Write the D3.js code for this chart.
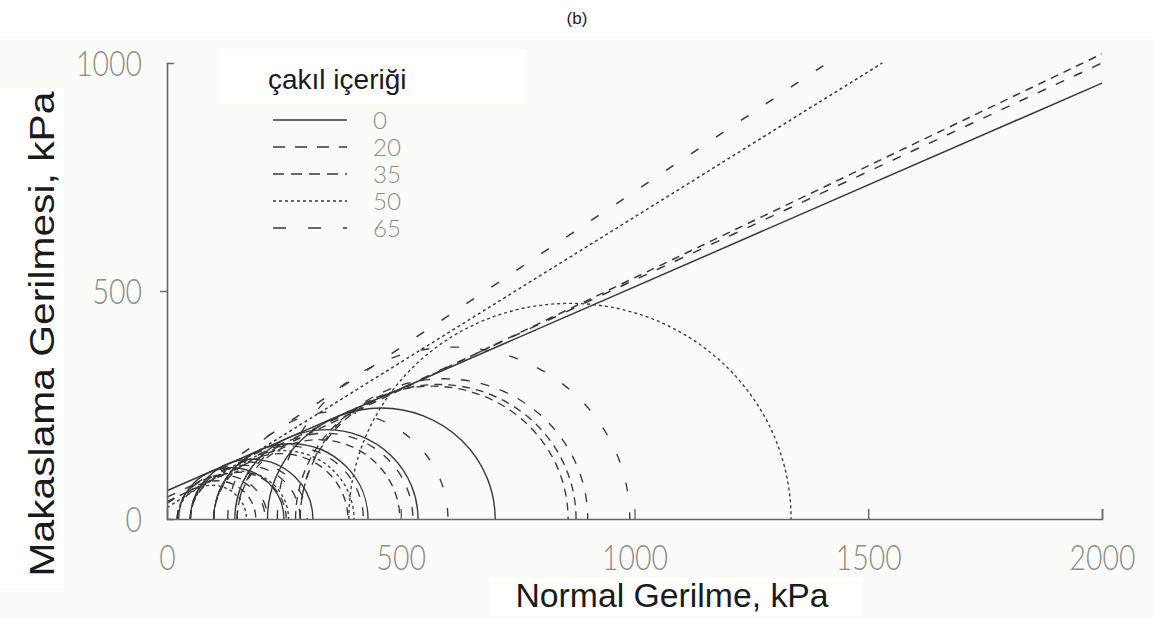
<!DOCTYPE html>
<html>
<head>
<meta charset="utf-8">
<script src="https://cdn.jsdelivr.net/npm/d3@7"></script>
<style>
  html, body { margin: 0; padding: 0; background: #fbfbf8; }
  svg { display: block; }
</style>
</head>
<body>
<svg id="chart" width="1153" height="618"></svg>
<script>
// Gravel content groups (legend labels)
const gravelContent = ["0", "20", "35", "50", "65"];

// Failure envelopes: shear stress at sigma = 0 and the end point of each line (kPa)
const envelopeStartTau = [62, 48, 38, 25, 34];
const envelopeEndSigma = [2000, 2000, 2000, 1530, 1412];
const envelopeEndTau   = [956, 1000, 1020, 1000, 1000];

// Mohr circles per group: minor (sigma3) and major (sigma1) principal stresses, kPa
const sigma3 = [
  [25, 50, 100, 145, 215],
  [22, 50, 100, 150, 285],
  [22, 50, 100, 150, 275, 285],
  [22, 50, 100, 389],
  [22, 50, 130, 236]
];
const sigma1 = [
  [250, 312, 430, 537, 702],
  [215, 285, 420, 526, 900],
  [190, 255, 387, 498, 858, 875],
  [170, 260, 400, 1335],
  [210, 300, 601, 990]
];

// Axis ticks
const xTicks = [0, 500, 1000, 1500, 2000];
const yTicks = [0, 500, 1000];

// Dash style per group
const dashPlot   = [null, "9,11", "8,6", "3,3", "9,21"];
const dashLegend = [null, "12,10", "11,7", "3,3", "13,22"];

const svg = d3.select("#chart");
const W = 1153;

const x = d3.scaleLinear().domain([0, 2000]).range([167, 1102]);
const y = d3.scaleLinear().domain([0, 1000]).range([519, 63]);

const ink = "#383838";
const tickFont = "'Lato', 'DejaVu Sans', sans-serif";
const titleFont = "'Liberation Sans', Arial, sans-serif";

// white label panels
svg.append("rect").attr("x", 0).attr("y", 0).attr("width", W).attr("height", 36).attr("fill", "#fff");
svg.append("rect").attr("x", 0).attr("y", 88).attr("width", 64).attr("height", 500).attr("fill", "#fff");
svg.append("rect").attr("x", 490).attr("y", 578).attr("width", 372).attr("height", 38).attr("fill", "#fff");
svg.append("rect").attr("x", 220).attr("y", 49).attr("width", 307).attr("height", 55).attr("fill", "#fff");

// panel label
svg.append("text").attr("x", 577).attr("y", 24)
  .attr("text-anchor", "middle")
  .style("font-family", titleFont)
  .style("font-size", "17px").attr("fill", "#222").text("(b)");

const plot = svg.append("g");

// Mohr circles (upper halves)
gravelContent.forEach((g, i) => {
  sigma3[i].forEach((s3, j) => {
    const s1 = sigma1[i][j];
    const rx = (x(s1) - x(s3)) / 2;
    const ry = (y(0) - y(s1 - s3)) / 2;
    plot.append("path")
      .attr("d", `M${x(s3)},${y(0)} A${rx},${ry} 0 0 1 ${x(s1)},${y(0)}`)
      .attr("fill", "none")
      .attr("stroke", ink)
      .attr("stroke-width", 1.35)
      .attr("stroke-dasharray", dashPlot[i]);
  });
});

// Failure envelopes
gravelContent.forEach((g, i) => {
  const pts = [[0, envelopeStartTau[i]], [envelopeEndSigma[i], envelopeEndTau[i]]];
  plot.append("path")
    .attr("d", d3.line().x(d => x(d[0])).y(d => y(d[1]))(pts))
    .attr("fill", "none")
    .attr("stroke", ink)
    .attr("stroke-width", 1.5)
    .attr("stroke-dasharray", dashPlot[i]);
});

// Axes
const xAxis = svg.append("g").attr("transform", `translate(0,${y(0)})`)
  .call(d3.axisBottom(x).tickValues(xTicks).tickSizeInner(-10).tickSizeOuter(-10).tickPadding(25).tickFormat(d3.format("d")));
const yAxis = svg.append("g").attr("transform", `translate(${x(0)},0)`)
  .call(d3.axisLeft(y).tickValues(yTicks).tickSizeInner(7).tickSizeOuter(-7).tickPadding(18).tickFormat(d3.format("d")));

[xAxis, yAxis].forEach(a => {
  a.select(".domain").attr("stroke", "#666").attr("stroke-width", 1.6);
  a.selectAll(".tick line").attr("stroke", "#666").attr("stroke-width", 1.4);
  a.selectAll(".tick text")
    .attr("fill", "#8c8c8c")
    .attr("textLength", d => String(d).length * 16.5)
    .attr("lengthAdjust", "spacingAndGlyphs")
    .style("font-family", tickFont)
    .style("font-weight", 300)
    .style("font-size", "35px");
});
xAxis.selectAll(".tick text").attr("dy", "0.74em");
yAxis.selectAll(".tick text").attr("dy", "0.36em");
xAxis.selectAll(".tick").filter(d => d === 0).select("line").remove();
yAxis.selectAll(".tick").filter(d => d === 0 || d === 1000).select("line").remove();

// Axis titles
svg.append("text")
  .attr("x", 672).attr("y", 607)
  .attr("text-anchor", "middle")
  .attr("textLength", 313).attr("lengthAdjust", "spacingAndGlyphs")
  .style("font-family", titleFont)
  .style("font-size", "33px").attr("fill", "#1a1a1a")
  .text("Normal Gerilme, kPa");

svg.append("text")
  .attr("transform", "translate(54,334) rotate(-90)")
  .attr("text-anchor", "middle")
  .attr("textLength", 485).attr("lengthAdjust", "spacingAndGlyphs")
  .style("font-family", titleFont)
  .style("font-size", "35px").attr("fill", "#1a1a1a")
  .text("Makaslama Gerilmesi, kPa");

// Legend
const legend = svg.append("g");
legend.append("text").attr("x", 268).attr("y", 89)
  .style("font-family", titleFont)
  .style("font-size", "28px").attr("fill", "#1a1a1a")
  .text("çakıl içeriği");

gravelContent.forEach((g, i) => {
  const yy = 120 + i * 27;
  legend.append("line")
    .attr("x1", 273).attr("x2", 347).attr("y1", yy).attr("y2", yy)
    .attr("stroke", ink).attr("stroke-width", 1.5)
    .attr("stroke-dasharray", dashLegend[i]);
  legend.append("text").attr("x", 373).attr("y", yy + 9)
    .attr("textLength", g.length * 14).attr("lengthAdjust", "spacingAndGlyphs")
    .style("font-family", tickFont).style("font-weight", 300)
    .style("font-size", "24px").attr("fill", "#8c8c8c")
    .text(g);
});
</script>
</body>
</html>
